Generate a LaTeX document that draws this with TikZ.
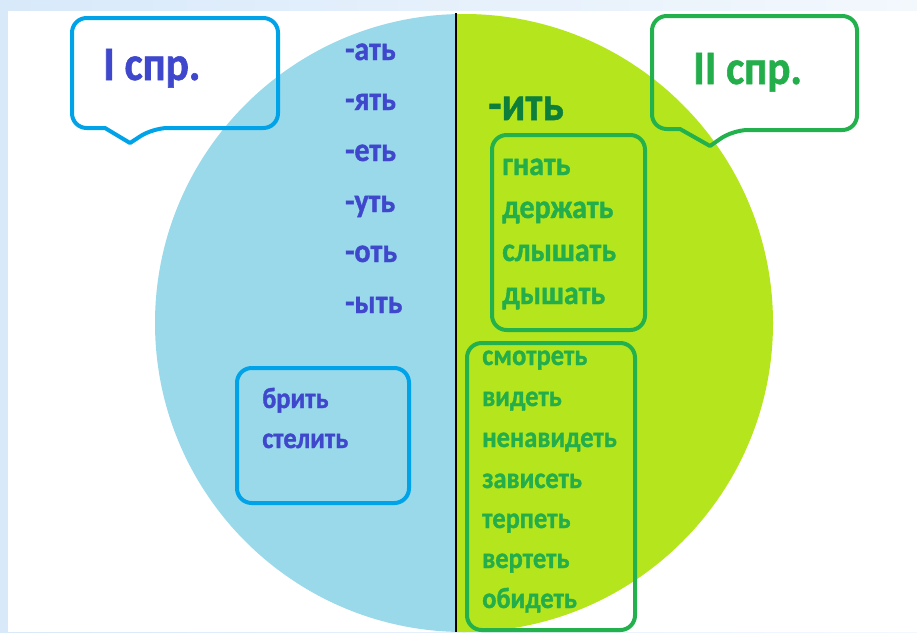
\documentclass[tikz,border=0pt]{standalone}
\usepackage{fontspec}
\setmainfont{Carlito}[FakeStretch=0.9,BoldFeatures={FakeBold=1.2}]
\definecolor{halfblue}{HTML}{99D9EA}
\definecolor{halflime}{HTML}{B5E61D}
\definecolor{lineblue}{HTML}{00A2E8}
\definecolor{linegreen}{HTML}{22B14C}
\definecolor{inkblue}{HTML}{3F48CC}
\definecolor{inkgreen}{HTML}{24AE4B}
\definecolor{inkdark}{HTML}{0E7F3A}
\definecolor{edgeblue}{HTML}{D8E9FA}
\definecolor{edgepale}{HTML}{F3F8FD}
\tikzset{
  word/.style={anchor=base west,inner sep=0pt,font=\bfseries\fontsize{25}{25}\selectfont},
  bluebox/.style={draw=lineblue,line width=3pt,rounded corners=11pt,line join=round},
  greenbox/.style={draw=linegreen,line width=3pt,rounded corners=11pt,line join=round}
}
\begin{document}
\begin{tikzpicture}[x=0.75pt,y=-0.75pt]
  \useasboundingbox (0,0) rectangle (917,632);
  \clip (0,0) rectangle (917,632);

  % page background
  \shade[left color=edgeblue,right color=edgepale] (0,0) rectangle (917,632);
  \fill[white] (8,11) rectangle (917,632);

  % the two halves
  \begin{scope}
    \clip (0,0) rectangle (456,640);
    \fill[halfblue] (464,323) circle [radius=309];
  \end{scope}
  \begin{scope}
    \clip (456,0) rectangle (917,640);
    \fill[halflime] (464,323) circle [radius=309];
  \end{scope}
  \draw[line width=1.5pt] (456,13) -- (456,632);

  % callouts
  \draw[bluebox] (130,143) [sharp corners] -- (105,128) [rounded corners=11pt] -- (72,128)
     -- (72,18) -- (278,18) -- (278,128) -- (153,128) [sharp corners] -- cycle;
  \draw[greenbox] (710,146) [sharp corners] -- (680,129) [rounded corners=11pt] -- (652,129)
     -- (652,16) -- (857,16) -- (857,130) -- (733,130) [sharp corners] -- cycle;
  \node[word,text=inkblue,font=\bfseries\fontsize{36}{36}\selectfont] (conj1) at (103,80) {I спр.};
  \node[word,text=inkgreen,font=\bfseries\fontsize{36}{36}\selectfont] (conj2) at (693,84) {II спр.};

  % first conjugation endings
  \foreach \n/\y/\t in {a1/60/-ать,a2/110/-ять,a3/161/-еть,a4/212/-уть,a5/262/-оть,a6/313/-ыть}
    \node[word,text=inkblue] (\n) at (345,\y) {\t};

  % second conjugation ending
  \node[word,text=inkdark,font=\bfseries\fontsize{36}{36}\selectfont] (itj) at (488,120) {-ить};

  % exceptions
  \draw[bluebox] (237,368) rectangle (409,503);
  \foreach \n/\y/\t in {b1/408/брить,b2/448/стелить}
    \node[word,text=inkblue,font=\bfseries\fontsize{22}{22}\selectfont] (\n) at (262,\y) {\t};

  \draw[greenbox] (492,135) rectangle (645,330);
  \foreach \n/\y/\t in {g1/175/гнать,g2/218/держать,g3/261/слышать,g4/304/дышать}
    \node[word,text=inkgreen] (\n) at (502,\y) {\t};

  \draw[greenbox] (467,343) rectangle (635,630);
  \foreach \n/\y/\t in {e1/365/смотреть,e2/406/видеть,e3/447/ненавидеть,e4/488/зависеть,
                        e5/528/терпеть,e6/568/вертеть,e7/608/обидеть}
    \node[word,text=inkgreen,font=\bfseries\fontsize{22}{22}\selectfont] (\n) at (482,\y) {\t};

\end{tikzpicture}
\end{document}
